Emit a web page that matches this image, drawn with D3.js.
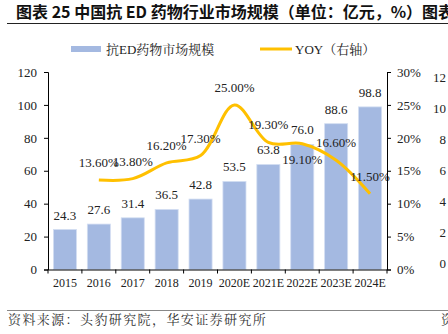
<!DOCTYPE html>
<html>
<head>
<meta charset="utf-8">
<script src="https://cdn.jsdelivr.net/npm/d3@7"></script>
<style>
  body { margin: 0; background: #fff; }
  svg { display: block; }
</style>
</head>
<body>
<script>
// categories and series
var years = ["2015", "2016", "2017", "2018", "2019", "2020E", "2021E", "2022E", "2023E", "2024E"];
var market = [24.3, 27.6, 31.4, 36.5, 42.8, 53.5, 63.8, 76.0, 88.6, 98.8];
var yoy = [null, 0.136, 0.138, 0.162, 0.173, 0.250, 0.193, 0.191, 0.166, 0.115];
var leftTicks = [0, 20, 40, 60, 80, 100, 120];
var rightTicks = [0, 0.05, 0.10, 0.15, 0.20, 0.25, 0.30];
// axis of the next chart on the page, cut off at the edge
var nextTicks = [0, 2, 4, 6, 8, 10, 12];

var w = 448;
var h = 334;
var plotL = 48, plotR = 387, plotT = 72, plotB = 269.5;
var serif = "'Liberation Serif', 'Times New Roman', 'Noto Serif CJK SC', 'Noto Sans CJK SC', serif";
var barColor = "#a4b9e1";
var lineColor = "#ffc000";

var svg = d3.select("body")
            .append("svg")
            .attr("width", w)
            .attr("height", h);

svg.append("rect").attr("width", w).attr("height", h).attr("fill", "#fff");

/****Title****/
svg.append("text")
   .attr("x", 16)
   .attr("y", 18)
   .attr("font-family", "'Noto Sans CJK SC', sans-serif")
   .attr("font-weight", "bold")
   .attr("font-size", "16px")
   .attr("fill", "#111")
   .text("图表 25 中国抗 ED 药物行业市场规模（单位：亿元，%）图表");
svg.append("line")
   .attr("x1", 7).attr("x2", w)
   .attr("y1", 23.5).attr("y2", 23.5)
   .attr("stroke", "#222").attr("stroke-width", 1);

/****Scales****/
var xScale = d3.scaleBand()
               .domain(years)
               .range([plotL, plotR])
               .padding(0);
var yScale = d3.scaleLinear()
               .domain([0, 120])
               .range([plotB, plotT]);
var rScale = d3.scaleLinear()
               .domain([0, 0.30])
               .range([plotB, plotT]);

var bw = xScale.bandwidth();

/****Bars****/
svg.selectAll("rect.bar")
   .data(market)
   .enter()
   .append("rect")
   .attr("class", "bar")
   .attr("x", function(d, i) { return xScale(years[i]) + bw * 0.16; })
   .attr("y", function(d) { return yScale(d); })
   .attr("width", bw * 0.68)
   .attr("height", function(d) { return plotB - yScale(d); })
   .attr("fill", barColor)
   .attr("stroke", "#d3def2")
   .attr("stroke-width", 0.8);

svg.selectAll("text.barlabel")
   .data(market)
   .enter()
   .append("text")
   .attr("class", "barlabel")
   .attr("x", function(d, i) { return xScale(years[i]) + bw / 2; })
   .attr("y", function(d) { return yScale(d) - 10; })
   .attr("text-anchor", "middle")
   .attr("font-family", serif)
   .attr("font-size", "13px")
   .attr("fill", "#222")
   .text(function(d) { return d.toFixed(1); });

/****YOY line****/
var pts = yoy.map(function(d, i) { return { year: years[i], v: d }; })
             .filter(function(p) { return p.v !== null; });

var line = d3.line()
             .x(function(p) { return xScale(p.year) + bw / 2; })
             .y(function(p) { return rScale(p.v); })
             .curve(d3.curveCatmullRom.alpha(0.5));

svg.append("path")
   .datum(pts)
   .attr("d", line)
   .attr("fill", "none")
   .attr("stroke", lineColor)
   .attr("stroke-width", 3);

svg.selectAll("text.yoylabel")
   .data(pts)
   .enter()
   .append("text")
   .attr("class", "yoylabel")
   .attr("x", function(p) { return xScale(p.year) + bw / 2; })
   .attr("y", function(p) { return rScale(p.v) + (p.year === "2022E" ? 20 : -13); })
   .attr("text-anchor", "middle")
   .attr("font-family", serif)
   .attr("font-size", "13px")
   .attr("fill", "#222")
   .text(function(p) { return (p.v * 100).toFixed(2) + "%"; });

/****Axes****/
var xAxis = d3.axisBottom(xScale).tickSize(0).tickPadding(9);
var gx = svg.append("g")
            .attr("transform", "translate(0," + plotB + ")")
            .call(xAxis);
gx.select(".domain").attr("stroke", "#000");
gx.selectAll("text").attr("font-family", serif).attr("font-size", "12px").attr("fill", "#222");
// tick marks sit between the categories
gx.selectAll("line.sep")
  .data(years.concat(["end"]))
  .enter()
  .append("line")
  .attr("class", "sep")
  .attr("x1", function(d, i) { return plotL + i * bw; })
  .attr("x2", function(d, i) { return plotL + i * bw; })
  .attr("y1", 0).attr("y2", 4)
  .attr("stroke", "#000");

var yAxis = d3.axisLeft(yScale).tickValues(leftTicks).tickSize(4).tickPadding(7);
var gy = svg.append("g")
            .attr("transform", "translate(" + plotL + ",0)")
            .call(yAxis);
gy.selectAll("path, line").attr("stroke", "#000");
gy.selectAll("text").attr("font-family", serif).attr("font-size", "13px").attr("fill", "#222");

var rAxis = d3.axisRight(rScale).tickValues(rightTicks).tickSize(4).tickPadding(6)
              .tickFormat(d3.format(".0%"));
var gr = svg.append("g")
            .attr("transform", "translate(" + plotR + ",0)")
            .call(rAxis);
gr.selectAll("path, line").attr("stroke", "#000");
gr.selectAll("text").attr("font-family", serif).attr("font-size", "13px").attr("fill", "#222");

/****Legend****/
svg.append("rect")
   .attr("x", 71).attr("y", 46)
   .attr("width", 30).attr("height", 6)
   .attr("fill", barColor);
svg.append("text")
   .attr("x", 106).attr("y", 54)
   .attr("font-family", serif)
   .attr("font-size", "13px")
   .attr("fill", "#222")
   .text("抗ED药物市场规模");
svg.append("line")
   .attr("x1", 260).attr("x2", 292)
   .attr("y1", 49).attr("y2", 49)
   .attr("stroke", lineColor)
   .attr("stroke-width", 3);
svg.append("text")
   .attr("x", 295).attr("y", 54)
   .attr("font-family", serif)
   .attr("font-size", "13px")
   .attr("fill", "#222")
   .text("YOY（右轴）");

/****Next chart's axis labels****/
var nScale = d3.scaleLinear().domain([0, 12]).range([263, 77]);
svg.selectAll("text.next")
   .data(nextTicks)
   .enter()
   .append("text")
   .attr("class", "next")
   .attr("x", 446)
   .attr("y", function(d) { return nScale(d) + 4.5; })
   .attr("text-anchor", "end")
   .attr("font-family", serif)
   .attr("font-size", "13px")
   .attr("fill", "#222")
   .text(function(d) { return d; });

/****Source****/
svg.append("line")
   .attr("x1", 7).attr("x2", w)
   .attr("y1", 310.5).attr("y2", 310.5)
   .attr("stroke", "#888").attr("stroke-width", 1);
svg.append("text")
   .attr("x", 8).attr("y", 324)
   .attr("font-family", "'Noto Serif CJK SC', 'Noto Sans CJK SC', sans-serif")
   .attr("font-size", "13px")
   .attr("letter-spacing", "1.4px")
   .attr("fill", "#333")
   .text("资料来源：头豹研究院，华安证券研究所");
svg.append("text")
   .attr("x", 441).attr("y", 324)
   .attr("font-family", "'Noto Serif CJK SC', 'Noto Sans CJK SC', sans-serif")
   .attr("font-size", "13px")
   .attr("fill", "#333")
   .text("资");
</script>
</body>
</html>
